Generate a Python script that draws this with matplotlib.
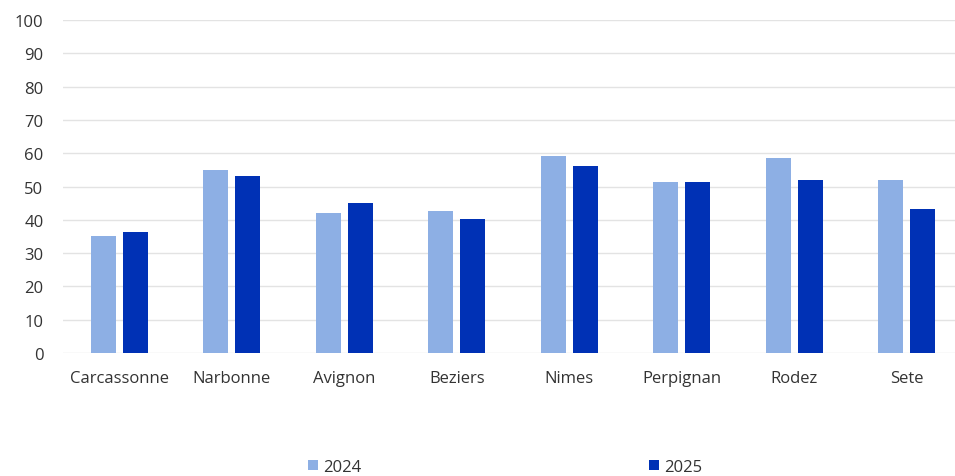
import matplotlib
matplotlib.use("Agg")
import matplotlib.pyplot as plt
import numpy as np

categories = ["Carcassonne", "Narbonne", "Avignon", "Beziers", "Nimes", "Perpignan", "Rodez", "Sete"]
values_2024 = [35.0, 55.0, 42.0, 42.6, 59.2, 51.4, 58.5, 52.0]
values_2025 = [36.2, 53.2, 45.0, 40.2, 56.2, 51.5, 52.0, 43.1]
series_labels = ["2024", "2025"]
yticks = [0, 10, 20, 30, 40, 50, 60, 70, 80, 90, 100]

plt.rcParams['font.family'] = ['Open Sans', 'DejaVu Sans']

fig = plt.figure(figsize=(9.55, 4.77), dpi=100)
ax = fig.add_axes([63/955, 123/477, 900/955, 333/477])

x = np.arange(len(categories))
w = 0.222
off = 0.142
c1 = "#8DAFE4"
c2 = "#0031B5"
ax.bar(x - off, values_2024, width=w, color=c1, label=series_labels[0], zorder=3)
ax.bar(x + off, values_2025, width=w, color=c2, label=series_labels[1], zorder=3)

ax.set_xlim(-0.5, len(categories) - 0.5)
ax.set_ylim(0, 100)
ax.set_yticks(yticks)
ax.set_xticks(x)
ax.set_xticklabels(categories)
ax.yaxis.grid(True, color="#E3E3E3", linewidth=1.0, zorder=0)
ax.set_axisbelow(True)
for s in ax.spines.values():
    s.set_visible(False)
ax.tick_params(axis='both', length=0, labelsize=12, labelcolor="#333333")
ax.tick_params(axis='x', pad=12)
ax.tick_params(axis='y', pad=14)

fig.legend(loc='center', bbox_to_anchor=(505/955, 9/477), ncol=2, frameon=False,
           fontsize=12, handlelength=0.6, handleheight=0.6, handletextpad=0.3,
           columnspacing=17.3, labelcolor="#333333", borderpad=0)

fig.savefig("out.png", dpi=100)
